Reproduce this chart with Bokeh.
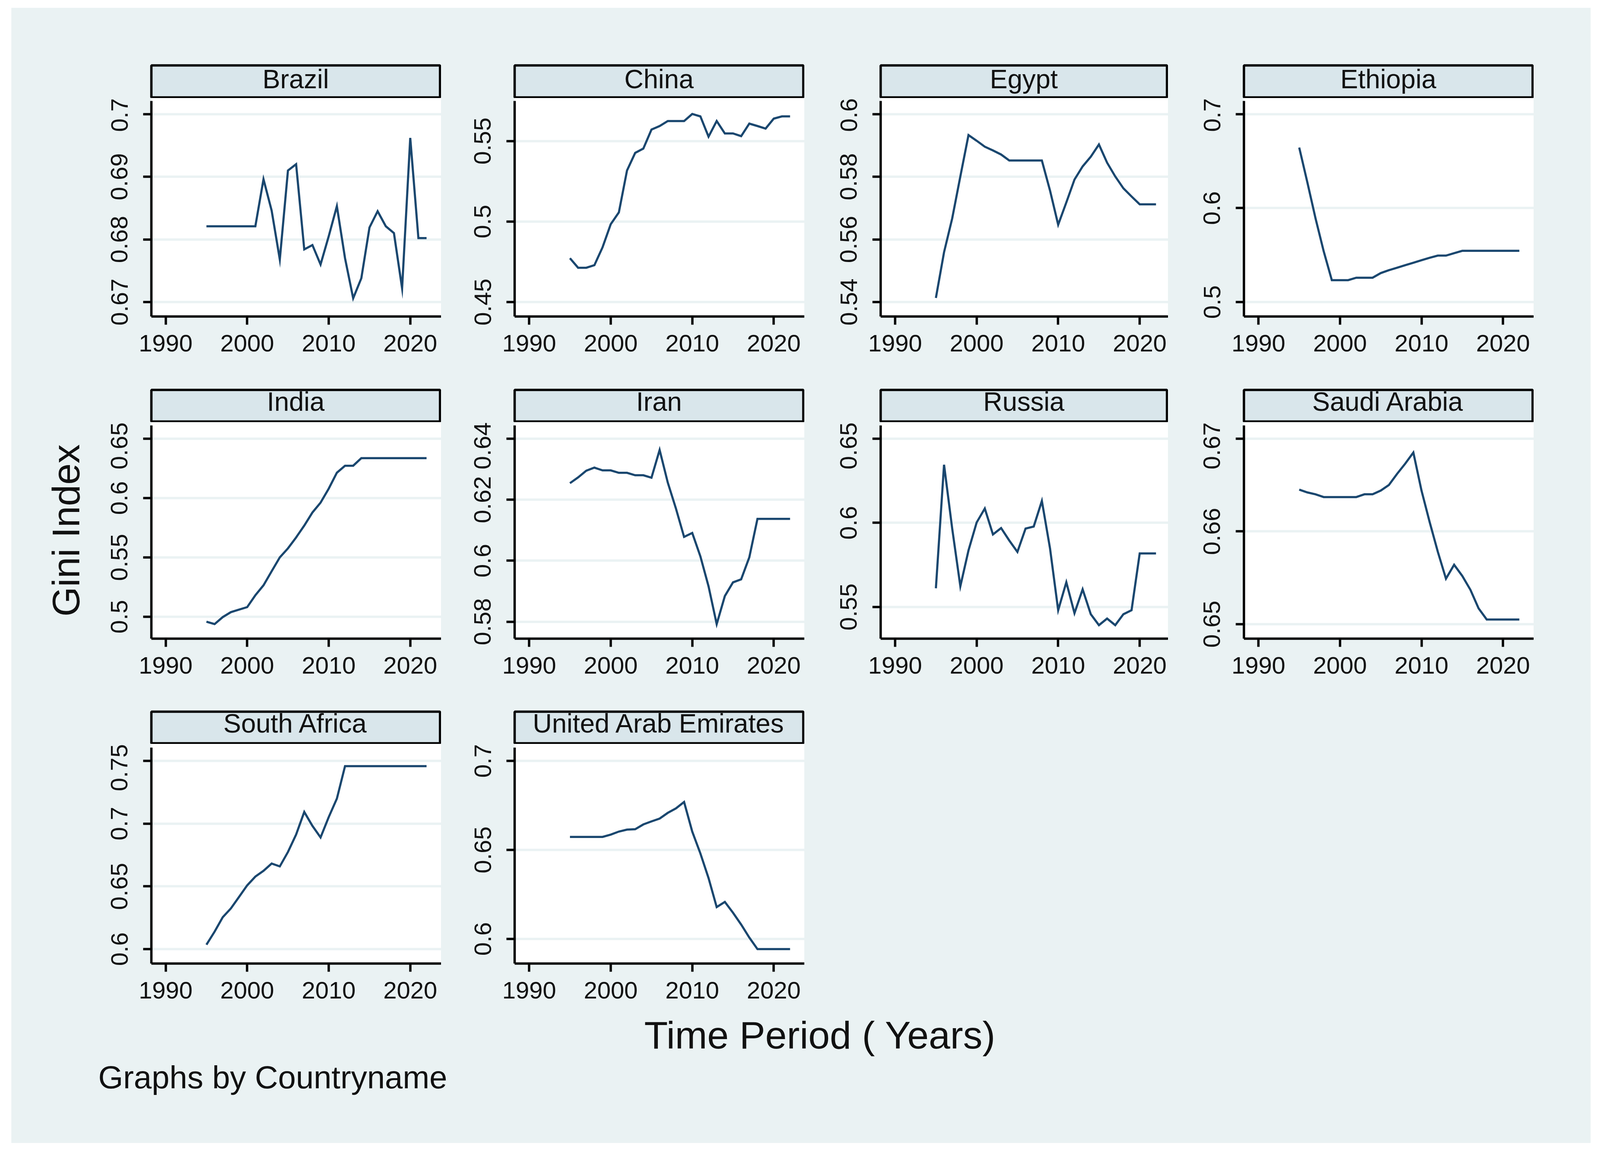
from bokeh.embed import file_html
from bokeh.layouts import column, row
from bokeh.models import FixedTicker, Range1d, Spacer
from bokeh.plotting import figure
from bokeh.resources import INLINE
from bokeh.core.properties import value

# ---------- data ----------
YEARS = list(range(1995, 2023))
X_TICKS = [1990, 2000, 2010, 2020]

BRAZIL = [.6821, .6821, .6821, .6821, .6821, .6821, .6821, .6896, .6846, .6768, .6910, .6920, .6784, .6791,
          .6760, .6805, .6853, .6770, .6706, .6738, .6819, .6845, .6821, .6810, .6722, .6962, .6802, .6802]
CHINA = [.4772, .4713, .4713, .4729, .4840, .4983, .5057, .5317, .5426, .5453, .5571, .5593, .5624, .5624,
         .5624, .5668, .5653, .5527, .5624, .5547, .5547, .5530, .5608, .5593, .5577, .5639, .5653, .5653]
EGYPT = [.5413, .5559, .5667, .5801, .5933, .5915, .5896, .5884, .5871, .5852, .5852, .5852, .5852, .5852,
         .5756, .5647, .5718, .5791, .5833, .5864, .5903, .5845, .5801, .5763, .5737, .5712, .5712, .5712]
ETHIOPIA = [.6644, .6273, .5891, .5541, .5233, .5233, .5233, .5259, .5259, .5259, .5308, .5339, .5365, .5392,
            .5418, .5445, .5471, .5494, .5494, .5520, .5545, .5545, .5545, .5545, .5545, .5545, .5545, .5545]
INDIA = [.4958, .4938, .4997, .5039, .5060, .5081, .5181, .5265, .5383, .5500, .5576, .5668, .5768, .5878,
         .5961, .6079, .6213, .6272, .6272, .6336, .6336, .6336, .6336, .6336, .6336, .6336, .6336, .6336]
IRAN = [.6254, .6273, .6295, .6305, .6296, .6296, .6288, .6288, .6280, .6280, .6272, .6363, .6256, .6171,
        .6078, .6091, .6014, .5916, .5792, .5884, .5929, .5939, .6011, .6137, .6137, .6137, .6137, .6137]
RUSSIA = [.5611, .6345, .5966, .5623, .5836, .6002, .6085, .5931, .5969, .5895, .5827, .5966, .5978, .6130,
          .5848, .5481, .5647, .5463, .5605, .5457, .5392, .5431, .5392, .5457, .5481, .5818, .5818, .5818]
SAUDI = [.6645, .6642, .6640, .6637, .6637, .6637, .6637, .6637, .6640, .6640, .6644, .6650, .6662, .6673,
         .6685, .6644, .6610, .6578, .6549, .6564, .6552, .6537, .6517, .6505, .6505, .6505, .6505, .6505]
SOUTH_AFRICA = [.6035, .6139, .6254, .6324, .6416, .6508, .6578, .6624, .6682, .6659, .6774, .6913, .7093, .6982,
                .6890, .7052, .7199, .7458, .7458, .7458, .7458, .7458, .7458, .7458, .7458, .7458, .7458, .7458]
UAE = [.6573, .6573, .6573, .6573, .6573, .6586, .6603, .6614, .6616, .6643, .6660, .6676, .6708, .6733,
       .6769, .6603, .6480, .6342, .6179, .6208, .6147, .6081, .6008, .5943, .5943, .5943, .5943, .5943]

# (title, values, y tick values, y tick labels)
PANELS = [
    [("Brazil", BRAZIL, [.67, .68, .69, .7], ["0.67", "0.68", "0.69", "0.7"]),
     ("China", CHINA, [.45, .5, .55], ["0.45", "0.5", "0.55"]),
     ("Egypt", EGYPT, [.54, .56, .58, .6], ["0.54", "0.56", "0.58", "0.6"]),
     ("Ethiopia", ETHIOPIA, [.5, .6, .7], ["0.5", "0.6", "0.7"])],
    [("India", INDIA, [.5, .55, .6, .65], ["0.5", "0.55", "0.6", "0.65"]),
     ("Iran", IRAN, [.58, .6, .62, .64], ["0.58", "0.6", "0.62", "0.64"]),
     ("Russia", RUSSIA, [.55, .6, .65], ["0.55", "0.6", "0.65"]),
     ("Saudi Arabia", SAUDI, [.65, .66, .67], ["0.65", "0.66", "0.67"])],
    [("South Africa", SOUTH_AFRICA, [.6, .65, .7, .75], ["0.6", "0.65", "0.7", "0.75"]),
     ("United Arab Emirates", UAE, [.6, .65, .7], ["0.6", "0.65", "0.7"])],
]
Y_TITLE = "Gini Index"
X_TITLE = "Time Period ( Years)"
NOTE = "Graphs by Countryname"

# ---------- layout ----------
# The browser shot is 4096 wide, so horizontal reference pixels are scaled to it.
XS = 4096 / 4298


def sx(px):
    return int(round(px * XS))


FONT = "Liberation Sans"
BG, STRIP, NAVY = "#EAF2F3", "#D9E6EB", "#1A476F"
PAGE_L, PAGE_T, PAGE_R, PAGE_B = sx(30), 20, sx(4273), 2927
COL_EDGE = [PAGE_L, sx(1185), sx(2161), sx(3137), sx(4120)]
FRAME_L = [sx(406), sx(1382), sx(2365), sx(3341)]
TICK_1990 = [444.5 * XS, 1421 * XS, 2404 * XS, 3380 * XS]
PX_PER_YEAR = 21.9 * XS
# row: strip canvas top, strip canvas bottom (= plot top), axis line top, plot bottom, next canvas top
ROWS = [(160, 251, 257.5, 810, 991),
        (991, 1081, 1088.6, 1635, 1815),
        (1815, 1905, 1914, 2467, 2590)]
# pixel of the highest and lowest y tick in each panel
HIGH_TICK = [[291.7, 360.6, 291.7, 291.7], [1122.8] * 4, [1948, 1948]]
LOW_TICK = [[773, 773, 773, 773], [1578.9, 1591.6, 1553.9, 1597.8], [2430, 2404]]


def strip(title, c, r):
    left, right = COL_EDGE[c], COL_EDGE[c + 1]
    top, bottom = ROWS[r][0], ROWS[r][1]
    p = figure(width=right - left, height=bottom - top, x_range=(0, 1), y_range=(0, 1),
               toolbar_location=None, output_backend="svg",
               min_border_left=FRAME_L[c] - left, min_border_right=3,
               min_border_top=7, min_border_bottom=2,
               background_fill_color=STRIP, border_fill_color=BG)
    p.axis.visible = False
    p.grid.visible = False
    p.outline_line_color = "black"
    p.outline_line_width = 6
    p.text([0.5], [0.58 if r == 0 else 0.64], text=[title], text_align="center", text_baseline="middle",
           text_font=value(FONT), text_font_size="68px", text_color="#111111")
    return p


def panel(values, ticks, labels, c, r):
    left, right = COL_EDGE[c], COL_EDGE[c + 1]
    _, top, axis_top, bottom, next_top = ROWS[r]
    high_tick, low_tick = HIGH_TICK[r][c], LOW_TICK[r][c]
    per_px = (ticks[-1] - ticks[0]) / (low_tick - high_tick)
    y_at = lambda px: ticks[0] + (low_tick - px) * per_px
    x_at = lambda px: 1990 + (px - TICK_1990[c]) / PX_PER_YEAR
    p = figure(width=right - left, height=next_top - top,
               x_range=Range1d(x_at(FRAME_L[c]), x_at(right)),
               y_range=Range1d(y_at(bottom), y_at(top)),
               toolbar_location=None, output_backend="svg",
               min_border_left=FRAME_L[c] - left, min_border_right=0,
               min_border_top=0, min_border_bottom=int(next_top - bottom),
               background_fill_color="white", border_fill_color=BG)
    p.outline_line_color = None
    p.xgrid.visible = False
    p.ygrid.ticker = FixedTicker(ticks=ticks)
    p.ygrid.grid_line_color = BG
    p.ygrid.grid_line_width = 6
    p.xaxis.ticker = FixedTicker(ticks=X_TICKS)
    p.yaxis.ticker = FixedTicker(ticks=ticks)
    p.yaxis.major_label_overrides = dict(zip(ticks, labels))
    p.yaxis.major_label_orientation = "vertical"
    p.yaxis.bounds = (y_at(bottom), y_at(axis_top))
    for ax, size, off in ((p.xaxis, "62px", 26), (p.yaxis, "62px", 40)):
        ax.axis_line_color = "black"
        ax.axis_line_width = 6
        ax.major_tick_line_color = "black"
        ax.major_tick_line_width = 6
        ax.major_tick_in = 0
        ax.major_tick_out = 21
        ax.minor_tick_line_color = None
        ax.major_label_text_font = FONT
        ax.major_label_text_font_size = size
        ax.major_label_text_color = "#111111"
        ax.major_label_standoff = off
    if r == 1 and c == 0:
        p.yaxis.axis_label = Y_TITLE
        p.yaxis.axis_label_text_font = FONT
        p.yaxis.axis_label_text_font_style = "normal"
        p.yaxis.axis_label_text_font_size = "98px"
        p.yaxis.axis_label_text_color = "#111111"
        p.yaxis.axis_label_standoff = 58
    p.line(YEARS, values, line_color=NAVY, line_width=5.5, line_join="miter")
    return p


children = [Spacer(width=PAGE_R - PAGE_L, height=ROWS[0][0] - PAGE_T)]
for r, items in enumerate(PANELS):
    children.append(row(*[strip(it[0], c, r) for c, it in enumerate(items)]))
    children.append(row(*[panel(it[1], it[2], it[3], c, r) for c, it in enumerate(items)]))

foot = figure(width=PAGE_R - PAGE_L, height=PAGE_B - ROWS[2][4],
              x_range=Range1d(PAGE_L, PAGE_R), y_range=Range1d(PAGE_B, ROWS[2][4]),
              toolbar_location=None, output_backend="svg", min_border=0,
              background_fill_color=BG, border_fill_color=BG)
foot.axis.visible = False
foot.grid.visible = False
foot.outline_line_color = None
foot.text([sx(2203)], [2650], text=[X_TITLE], text_align="center", text_baseline="middle",
          text_font=value(FONT), text_font_size="99px", text_color="#111111")
foot.text([sx(263)], [2758], text=[NOTE], text_align="left", text_baseline="middle",
          text_font=value(FONT), text_font_size="82px", text_color="#111111")
children.append(foot)

root = column(*children, width=PAGE_R - PAGE_L, height=PAGE_B - PAGE_T,
              margin=(PAGE_T, 0, 0, PAGE_L), styles={"background-color": BG})

open("out.html", "w").write(file_html(root, INLINE))
